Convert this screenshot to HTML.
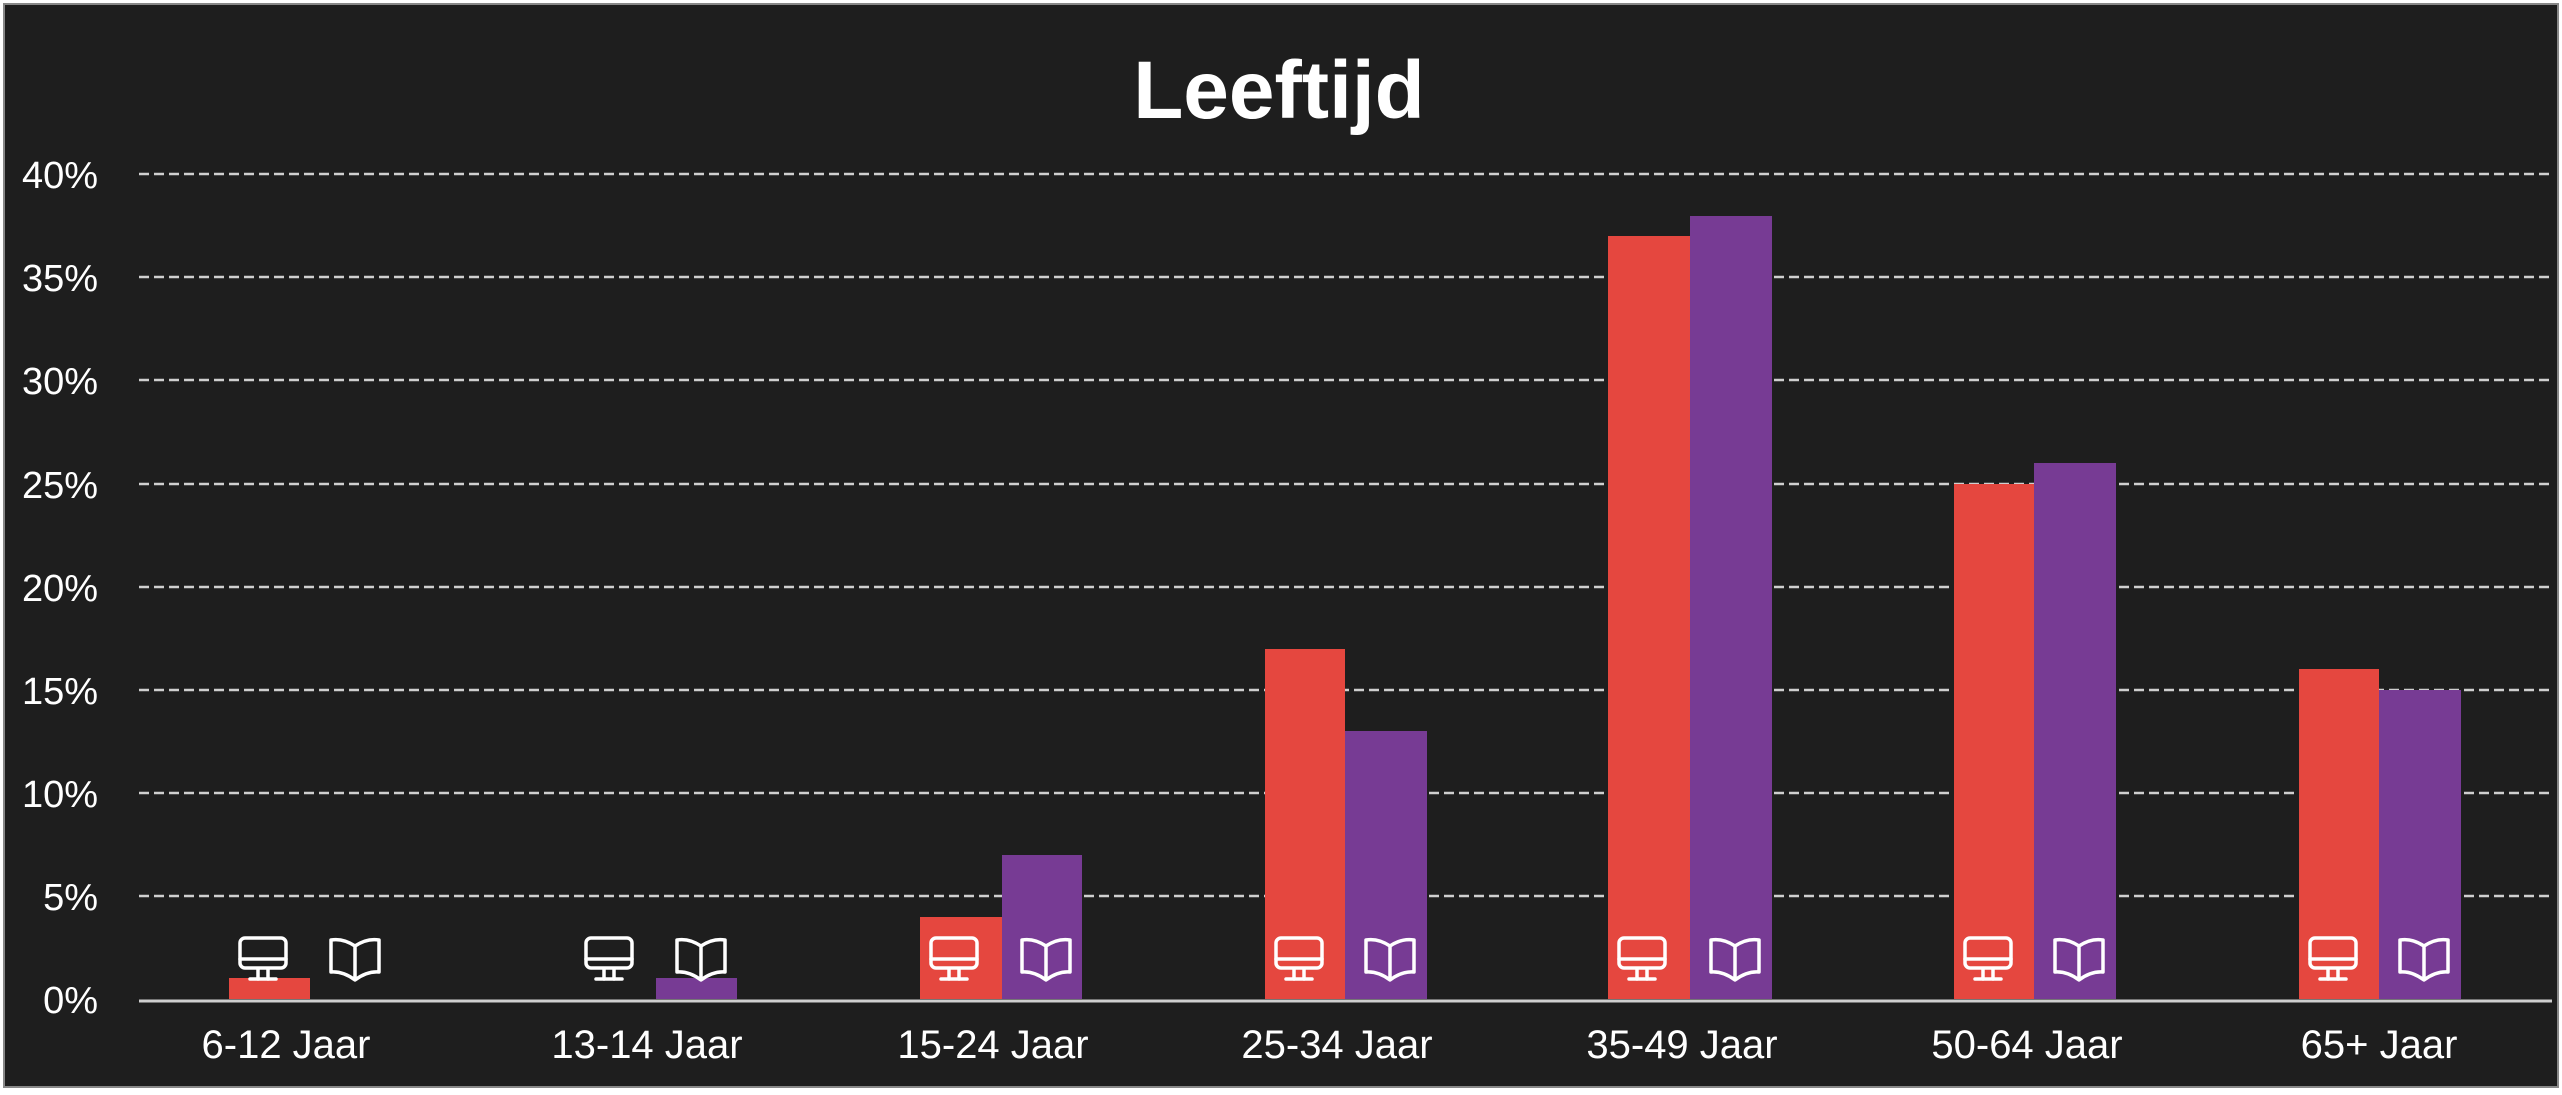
<!DOCTYPE html>
<html><head><meta charset="utf-8"><style>
html,body{margin:0;padding:0;background:#fff;}
svg{display:block;}
text{font-family:"Liberation Sans",sans-serif;fill:#fff;}
</style></head><body>
<svg width="2562" height="1095" viewBox="0 0 2562 1095" xmlns="http://www.w3.org/2000/svg">
<defs>
<g id="mon" fill="none" stroke="#fff" stroke-width="3.5" stroke-linejoin="round" stroke-linecap="round">
<rect x="2" y="2" width="46" height="30" rx="5"/>
<line x1="2" y1="23" x2="48" y2="23"/>
<line x1="20" y1="33" x2="20" y2="43"/>
<line x1="30" y1="33" x2="30" y2="43"/>
<line x1="12" y1="43" x2="38" y2="43"/>
</g>
<g id="book" fill="none" stroke="#fff" stroke-width="3.5" stroke-linejoin="round">
<path d="M26 44 L26 10 Q14 2 2 4 L2 36 Q14 35 26 44 Q38 35 50 36 L50 4 Q38 2 26 10"/>
</g>
</defs>
<rect x="0" y="0" width="2562" height="1095" fill="#fff"/>
<rect x="4" y="4" width="2554" height="1083" fill="#1e1e1e" stroke="#888" stroke-width="2"/>
<text x="1279" y="118" text-anchor="middle" font-size="82" font-weight="bold">Leeftijd</text>
<g stroke="#cfcfcf" stroke-width="2.5" stroke-dasharray="10,5">
<line x1="139" y1="174" x2="2552" y2="174"/>
<line x1="139" y1="277" x2="2552" y2="277"/>
<line x1="139" y1="380" x2="2552" y2="380"/>
<line x1="139" y1="484" x2="2552" y2="484"/>
<line x1="139" y1="587" x2="2552" y2="587"/>
<line x1="139" y1="690" x2="2552" y2="690"/>
<line x1="139" y1="793" x2="2552" y2="793"/>
<line x1="139" y1="896" x2="2552" y2="896"/>
</g>
<g font-size="38" text-anchor="end">
<text x="98" y="188">40%</text>
<text x="98" y="291">35%</text>
<text x="98" y="394">30%</text>
<text x="98" y="498">25%</text>
<text x="98" y="601">20%</text>
<text x="98" y="704">15%</text>
<text x="98" y="807">10%</text>
<text x="98" y="910">5%</text>
<text x="98" y="1013">0%</text>
</g>
<g fill="#e5473f">
<rect x="229" y="978" width="81" height="21"/>
<rect x="920" y="917" width="82" height="82"/>
<rect x="1265" y="649" width="80" height="350"/>
<rect x="1608" y="236" width="82" height="763"/>
<rect x="1954" y="484" width="80" height="515"/>
<rect x="2299" y="669" width="80" height="330"/>
</g>
<g fill="#773b94">
<rect x="656" y="978" width="81" height="21"/>
<rect x="1002" y="855" width="80" height="144"/>
<rect x="1345" y="731" width="82" height="268"/>
<rect x="1690" y="216" width="82" height="783"/>
<rect x="2034" y="463" width="82" height="536"/>
<rect x="2379" y="690" width="82" height="309"/>
</g>
<line x1="139" y1="1001" x2="2552" y2="1001" stroke="#cfcfcf" stroke-width="3"/>
<use href="#mon" x="238" y="936"/><use href="#book" x="329" y="936"/>
<use href="#mon" x="584" y="936"/><use href="#book" x="675" y="936"/>
<use href="#mon" x="929" y="936"/><use href="#book" x="1020" y="936"/>
<use href="#mon" x="1274" y="936"/><use href="#book" x="1364" y="936"/>
<use href="#mon" x="1617" y="936"/><use href="#book" x="1709" y="936"/>
<use href="#mon" x="1963" y="936"/><use href="#book" x="2053" y="936"/>
<use href="#mon" x="2308" y="936"/><use href="#book" x="2398" y="936"/>
<g font-size="40" text-anchor="middle">
<text x="286" y="1058">6-12 Jaar</text>
<text x="647" y="1058">13-14 Jaar</text>
<text x="993" y="1058">15-24 Jaar</text>
<text x="1337" y="1058">25-34 Jaar</text>
<text x="1682" y="1058">35-49 Jaar</text>
<text x="2027" y="1058">50-64 Jaar</text>
<text x="2379" y="1058">65+ Jaar</text>
</g>
</svg>
</body></html>
